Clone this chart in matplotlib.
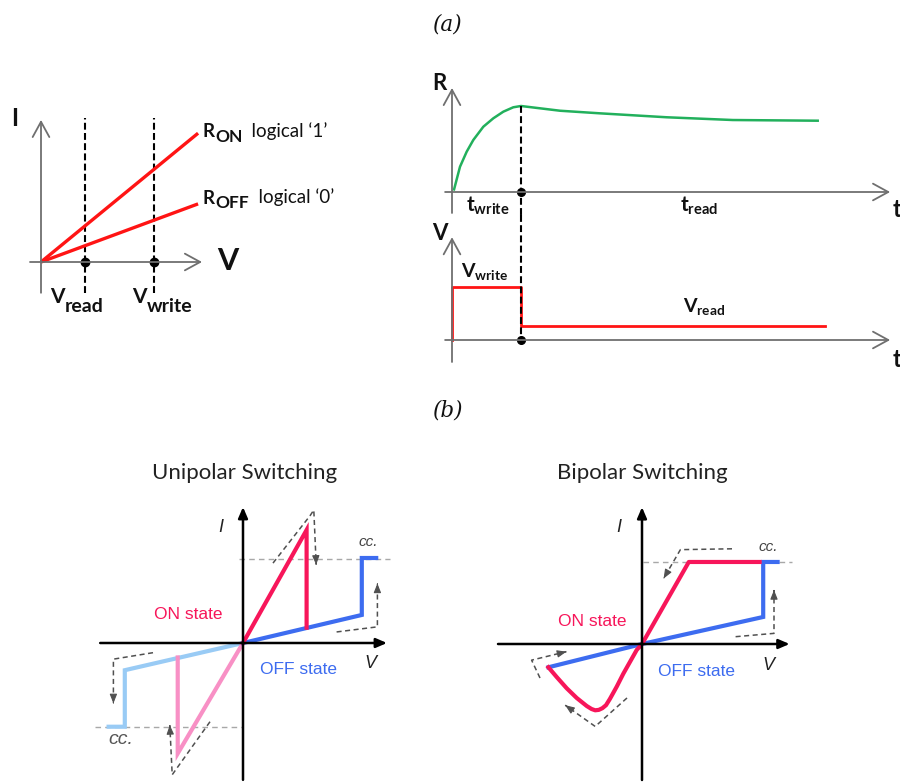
import matplotlib
matplotlib.use("Agg")
import matplotlib.pyplot as plt

plt.rcParams['font.family'] = ['Lato', 'DejaVu Sans']
plt.rcParams['mathtext.fontset'] = 'custom'
plt.rcParams['mathtext.rm'] = 'Lato'
plt.rcParams['mathtext.bf'] = 'Lato:bold'
plt.rcParams['mathtext.it'] = 'Lato:italic'

W, H = 900, 783
fig = plt.figure(figsize=(W / 100, H / 100), dpi=100)
renderer = fig.canvas.get_renderer()

# ---------------- data ----------------
# (a) left: linear I-V of the two resistance states
v_read = 1.0
v_write = 2.57
v_span = 3.57
g_on = 0.82     # ON state conductance  (logical '1')
g_off = 0.37    # OFF state conductance (logical '0')

# (a) right: resistance transient during write / read
t_write = 1.0
r_time = [0.03, 0.116, 0.213, 0.309, 0.454, 0.599, 0.744, 0.888, 1.0,
          1.565, 2.14, 3.11, 4.07, 5.30]
r_value = [0.03, 0.294, 0.469, 0.605, 0.759, 0.857, 0.934, 0.985, 1.0,
           0.945, 0.915, 0.869, 0.837, 0.829]
pulse_time = [0.0, 0.0, 1.0, 1.0, 5.41]
pulse_volt = [0.0, 1.0, 1.0, 0.26, 0.26]

# (b) unipolar switching
uni_on_v = [0.0, 0.53, 0.53]
uni_on_i = [0.0, 1.33, 0.18]
uni_off_v = [0.0, 0.99, 0.99, 1.11]
uni_off_i = [0.0, 0.33, 1.0, 1.0]
uni_on_neg_v = [0.0, -0.544, -0.544]
uni_on_neg_i = [0.0, -1.30, -0.17]
uni_off_neg_v = [0.0, -0.985, -0.985, -1.12]
uni_off_neg_i = [0.0, -0.32, -0.985, -0.985]
uni_cc_pos = 0.99
uni_cc_neg = -0.985
uni_guides = [
    ([0.25, 0.56, 0.59, 0.61], [0.94, 1.50, 1.565, 0.92]),
    ([0.78, 1.12, 1.12], [0.13, 0.19, 0.70]),
    ([-0.75, -1.08, -1.08], [-0.114, -0.19, -0.71]),
    ([-0.275, -0.59, -0.61], [-0.926, -1.55, -0.965]),
]

# (b) bipolar switching
bi_on_v = [-0.78, -0.71, -0.628, -0.544, -0.46, -0.42, -0.39, -0.36,
           -0.33, -0.30, -0.267, -0.21, -0.156, -0.10, -0.044, 0.0,
           0.39, 0.98]
bi_on_i = [-0.274, -0.39, -0.52, -0.635, -0.73, -0.765, -0.78, -0.775,
           -0.755, -0.72, -0.645, -0.50, -0.35, -0.21, -0.07, 0.0,
           0.965, 0.965]
bi_off_v = [-0.78, 0.0, 1.01, 1.01, 1.13]
bi_off_i = [-0.274, 0.0, 0.318, 0.965, 0.965]
bi_cc = 0.965
bi_guides = [
    ([0.75, 0.32, 0.18], [1.12, 1.11, 0.77]),
    ([0.78, 1.10, 1.10], [0.086, 0.125, 0.635]),
    ([-0.85, -0.92, -0.63], [-0.40, -0.19, -0.09]),
    ([-0.125, -0.39, -0.64], [-0.635, -0.97, -0.72]),
]

# ---------------- colours ----------------
RED = '#ff1414'
GREEN = '#22b05c'
AXGRAY = '#6f6f6f'
CRIMSON = '#f7165a'
BLUE = '#3d6cf0'
LBLUE = '#99cbf5'
LPINK = '#f890c5'
GUIDE = '#505050'
CCGRAY = '#a8a8a8'
INK = '#111111'


def panel(box, origin, scale):
    """Axes placed on a pixel box; data units given by origin and px/unit."""
    x0, y0, x1, y1 = box
    ox, oy = origin
    sx, sy = scale
    ax = fig.add_axes([x0 / W, 1 - y1 / H, (x1 - x0) / W, (y1 - y0) / H])
    ax.set_xlim((x0 - ox) / sx, (x1 - ox) / sx)
    ax.set_ylim((oy - y1) / sy, (oy - y0) / sy)
    ax.axis('off')
    return ax


def arrow(ax, start, end, color, lw, style, ms=10):
    ax.annotate('', xy=end, xytext=start, annotation_clip=False,
                arrowprops=dict(arrowstyle=style, color=color, lw=lw,
                                shrinkA=0, shrinkB=0, mutation_scale=ms))


def guide(ax, xs, ys):
    ax.plot(xs, ys, color=GUIDE, lw=1.1, dashes=(3.3, 2.3))
    dx, dy = xs[-1] - xs[-2], ys[-1] - ys[-2]
    arrow(ax, (xs[-1] - 0.02 * dx, ys[-1] - 0.02 * dy), (xs[-1], ys[-1]),
          GUIDE, 0.8, '-|>,head_length=0.55,head_width=0.22')


def label(px, py, s, **kw):
    return fig.text(px / W, 1 - py / H, s, **kw)


def run_label(px, py, pieces):
    """Left-aligned run of text pieces: (text, size, weight, baseline drop)."""
    x = px
    for s, size, weight, drop in pieces:
        t = label(x, py + drop, s, fontsize=size, fontweight=weight,
                  ha='left', va='baseline', color=INK)
        x = t.get_window_extent(renderer).x1
    return x


# ================= (a) left =================
ax = panel((0, 90, 260, 320), (41, 262), (44, 44))
open_head = '->,head_length=1.1,head_width=0.6'
arrow(ax, (-0.25, 0), (3.66, 0), AXGRAY, 1.3, open_head)
arrow(ax, (0, -0.70), (0, 3.23), AXGRAY, 1.3, open_head)
for v in (v_read, v_write):
    ax.plot([v, v], [-0.70, 3.27], color='black', lw=1.5, dashes=(3.3, 1.6))
ax.plot([0, v_span], [0, g_on * v_span], color=RED, lw=2.4,
        solid_capstyle='butt')
ax.plot([0, v_span], [0, g_off * v_span], color=RED, lw=2.4,
        solid_capstyle='butt')
ax.plot([v_read, v_write], [0, 0], 'o', color='black', ms=6)

label(15, 118, 'I', fontsize=17, ha='center', va='center',
      fontweight='bold', color=INK)
label(228, 261, 'V', fontsize=22, ha='center', va='center',
      fontweight='bold', color=INK)
run_label(50, 303, [('V', 15, 'bold', 0), ('read', 14, 'bold', 9)])
run_label(132, 303, [('V', 15, 'bold', 0), ('write', 14, 'bold', 9)])
run_label(203, 137, [('R', 13.5, 'bold', 0), ('ON', 12.5, 'bold', 5),
                     ('  logical ‘1’', 13.5, 'normal', 0)])
run_label(203, 203.5, [('R', 13.5, 'bold', 0), ('OFF', 12.5, 'bold', 5),
                       ('  logical ‘0’', 13.5, 'normal', 0)])

# ================= (a) right =================
axr = panel((420, 70, 900, 215), (452, 192), (69, 86))
arrow(axr, (-0.1, 0), (6.35, 0), AXGRAY, 1.3, open_head)
arrow(axr, (0, -0.244), (0, 1.21), AXGRAY, 1.3, open_head)
axr.plot(r_time, r_value, color=GREEN, lw=1.8)
axr.plot([t_write, t_write], [max(r_value), axr.get_ylim()[0]],
         color='black', lw=1.5, dashes=(3.3, 1.6), clip_on=False)
axr.plot([t_write], [0], 'o', color='black', ms=5.5)

axv = panel((420, 215, 900, 380), (452, 340), (69, 53))
arrow(axv, (-0.1, 0), (6.35, 0), AXGRAY, 1.3, open_head)
arrow(axv, (0, -0.415), (0, 1.94), AXGRAY, 1.3, open_head)
axv.plot(pulse_time, pulse_volt, color=RED, lw=2.0)
axv.plot([t_write, t_write], [axv.get_ylim()[1], 0],
         color='black', lw=1.5, dashes=(3.3, 1.6), clip_on=False)
axv.plot([t_write], [0], 'o', color='black', ms=5.5)

label(432, 90, 'R', fontsize=16, ha='left', va='baseline',
      fontweight='bold', color=INK)
label(893, 217, 't', fontsize=17, ha='left', va='baseline',
      fontweight='bold', color=INK)
label(432, 240, 'V', fontsize=16, ha='left', va='baseline',
      fontweight='bold', color=INK)
label(893, 367, 't', fontsize=17, ha='left', va='baseline',
      fontweight='bold', color=INK)
label(466, 212, r'$\mathbf{t}_{\mathbf{write}}$', fontsize=15,
      ha='left', va='baseline', color=INK)
label(680, 212, r'$\mathbf{t}_{\mathbf{read}}$', fontsize=15,
      ha='left', va='baseline', color=INK)
label(461, 277, r'$\mathbf{V}_{\mathbf{write}}$', fontsize=14,
      ha='left', va='baseline', color=INK)
label(683, 312, r'$\mathbf{V}_{\mathbf{read}}$', fontsize=14,
      ha='left', va='baseline', color=INK)

# ================= panel captions =================
label(447, 24, '(a)', fontsize=15.5, family='DejaVu Serif', style='italic',
      ha='center', va='center', color=INK)
label(447, 410, '(b)', fontsize=15.5, family='DejaVu Serif', style='italic',
      ha='center', va='center', color=INK)

# ================= (b) unipolar =================
solid_head = '-|>,head_length=0.65,head_width=0.28'
axu = panel((90, 495, 400, 783), (243, 643), (120, 85))
arrow(axu, (-1.19, 0), (1.20, 0), 'black', 1.8, solid_head)
arrow(axu, (0, -1.61), (0, 1.60), 'black', 1.8, solid_head)
axu.plot([-0.03, 1.225], [uni_cc_pos] * 2, color=CCGRAY, lw=1.0,
         dashes=(4, 3))
axu.plot([-1.23, -0.01], [uni_cc_neg] * 2, color=CCGRAY, lw=1.0,
         dashes=(4, 3))
axu.plot(uni_off_neg_v, uni_off_neg_i, color=LBLUE, lw=3.0,
         solid_joinstyle='miter')
axu.plot(uni_on_neg_v, uni_on_neg_i, color=LPINK, lw=3.0,
         solid_joinstyle='miter')
axu.plot(uni_off_v, uni_off_i, color=BLUE, lw=3.0, solid_joinstyle='miter')
axu.plot(uni_on_v, uni_on_i, color=CRIMSON, lw=3.0, solid_joinstyle='miter')
for gx, gy in uni_guides:
    guide(axu, gx, gy)

label(245, 473, 'Unipolar Switching', fontsize=16, ha='center',
      va='center', color='#222222')
ital = dict(family='Liberation Sans', style='italic', color='#222222')
label(221, 527, 'I', fontsize=13, ha='center', va='center', **ital)
label(370, 663, 'V', fontsize=13, ha='center', va='center', **ital)
label(368, 542, 'cc.', fontsize=11, ha='center', va='center',
      family='Liberation Sans', style='italic', color='#444444')
label(121, 740, 'cc.', fontsize=14, ha='center', va='center',
      family='Liberation Sans', style='italic', color='#555555')
label(188, 614.5, 'ON state', fontsize=12.5, ha='center', va='center',
      family='Liberation Sans', color=CRIMSON)
label(299, 670, 'OFF state', fontsize=12.5, ha='center', va='center',
      family='Liberation Sans', color=BLUE)

# ================= (b) bipolar =================
axb = panel((490, 495, 810, 783), (642, 644), (120, 85))
arrow(axb, (-1.20, 0), (1.23, 0), 'black', 1.8, solid_head)
arrow(axb, (0, -1.60), (0, 1.61), 'black', 1.8, solid_head)
axb.plot([0.01, 1.25], [bi_cc] * 2, color=CCGRAY, lw=1.0, dashes=(4, 3))
axb.plot(bi_off_v, bi_off_i, color=BLUE, lw=3.0, solid_joinstyle='miter')
axb.plot(bi_on_v, bi_on_i, color=CRIMSON, lw=3.0, solid_joinstyle='round')
for gx, gy in bi_guides:
    guide(axb, gx, gy)

label(642, 473, 'Bipolar Switching', fontsize=16, ha='center',
      va='center', color='#222222')
label(619, 528, 'I', fontsize=13, ha='center', va='center', **ital)
label(768, 666, 'V', fontsize=13, ha='center', va='center', **ital)
label(768, 547, 'cc.', fontsize=11, ha='center', va='center',
      family='Liberation Sans', style='italic', color='#444444')
label(592, 621, 'ON state', fontsize=12.5, ha='center', va='center',
      family='Liberation Sans', color=CRIMSON)
label(697, 672, 'OFF state', fontsize=12.5, ha='center', va='center',
      family='Liberation Sans', color=BLUE)

fig.savefig('out.png', dpi=100)
